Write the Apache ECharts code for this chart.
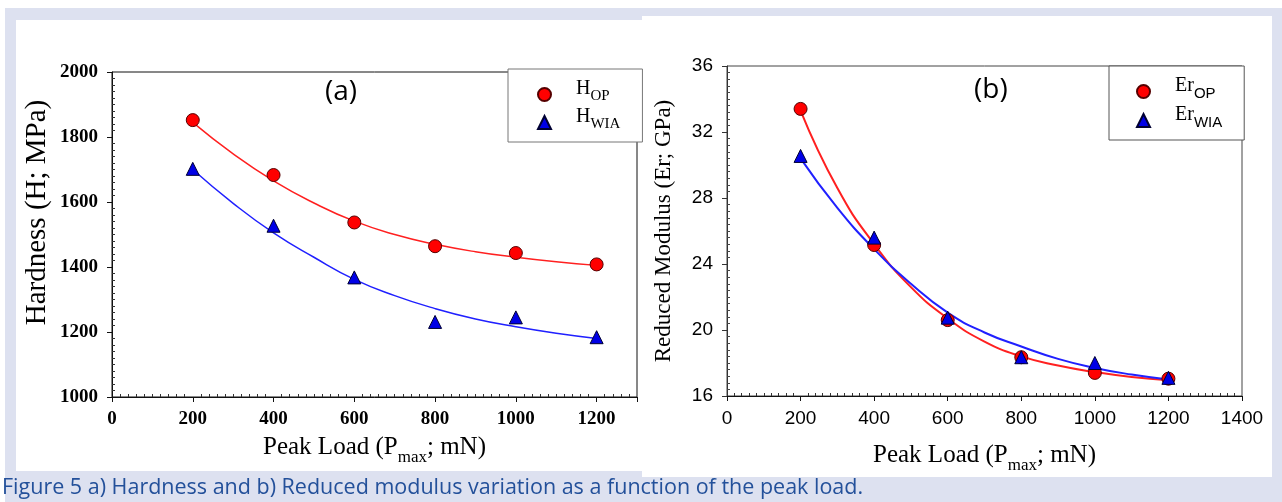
<!DOCTYPE html>
<html>
<head>
<meta charset="utf-8">
<script src="https://cdn.jsdelivr.net/npm/echarts@6/dist/echarts.min.js"></script>
<style>
  html, body { margin: 0; padding: 0; background: #fff; }
  #chart { width: 1282px; height: 502px; }
</style>
</head>
<body>
<div id="chart"></div>
<script>
// measured points
const loads = [200, 400, 600, 800, 1000, 1200]
const hOP = [1852, 1683, 1537, 1464, 1443, 1408]
const hWIA = [1702, 1527, 1368, 1231, 1245, 1184]
const erOP = [33.4, 25.15, 20.6, 18.35, 17.4, 17.05]
const erWIA = [30.55, 25.6, 20.75, 18.35, 18.0, 17.1]

// fitted curves, every 100 mN
const fitLoads = [200, 300, 400, 500, 600, 700, 800, 900, 1000, 1100, 1200]
const hOPFit = [1845, 1748, 1665, 1597, 1541, 1500, 1470, 1447, 1430, 1416, 1405]
const hWIAFit = [1700, 1596, 1505, 1430, 1362, 1312, 1272, 1240, 1216, 1196, 1180]
const erOPFit = [33.3, 28.6, 25.2, 22.6, 20.7, 19.3, 18.4, 17.85, 17.45, 17.15, 16.95]
const erWIAFit = [30.4, 27.4, 24.9, 22.8, 21.05, 19.85, 19.0, 18.25, 17.7, 17.3, 17.0]

const legendA = ['H_OP', 'H_WIA']
const legendB = ['Er_OP', 'Er_WIA']
const caption = 'Figure 5 a) Hardness and b) Reduced modulus variation as a function of the peak load.'

const pairs = (xs, ys) => xs.map((x, i) => [x, ys[i]])
const plain = (v) => String(v)

const RED = '#ff0000'
const BLUE = '#0000e6'
const SERIF = '"Liberation Serif", "Times New Roman", serif'
const SANS = '"Liberation Sans", Arial, sans-serif'

const subName = {
  t: { fontFamily: SERIF, fontSize: 25, lineHeight: 26, padding: [0, 0, 6, 0], verticalAlign: 'bottom', color: '#000' },
  s: { fontFamily: SERIF, fontSize: 17, lineHeight: 19, verticalAlign: 'bottom', color: '#000' }
}

const legendRich = (subFont, subSize) => ({
  m: { fontFamily: SERIF, fontSize: 20, lineHeight: 19, padding: [0, 0, 5, 20], verticalAlign: 'bottom', color: '#000' },
  s: { fontFamily: subFont, fontSize: subSize, lineHeight: 15, verticalAlign: 'bottom', color: '#000' }
})

const legendFormatter = (name) => {
  const [m, s] = name.split('_')
  return '{m|' + m + '}{s|' + s + '}'
}

const xAxisBase = (font, bold, showMax) => ({
  type: 'value',
  interval: 200,
  min: 0,
  axisLine: { show: true, lineStyle: { color: '#111', width: 1 } },
  axisTick: { show: true, inside: false, length: 5, lineStyle: { color: '#111' } },
  minorTick: { show: true, splitNumber: 10, length: -3, lineStyle: { color: '#333' } },
  splitLine: { show: false },
  axisLabel: {
    fontFamily: font, fontWeight: bold ? 'bold' : 'normal', fontSize: 19, color: '#000',
    margin: 13, showMaxLabel: showMax, formatter: plain
  },
  nameLocation: 'middle',
  nameTextStyle: { rich: subName }
})

const chart = echarts.init(document.getElementById('chart'))

const option = {
  animation: false,
  graphic: [
    { type: 'rect', z: -100, silent: true, shape: { x: 5, y: 8, width: 1277, height: 494 }, style: { fill: '#dde1f0' } },
    { type: 'rect', z: -99, silent: true, shape: { x: 16, y: 20, width: 626, height: 451 }, style: { fill: '#fff' } },
    { type: 'rect', z: -98, silent: true, shape: { x: 642, y: 16, width: 630, height: 461 }, style: { fill: '#fff' } },
    { type: 'text', left: 325, top: 78, style: { text: '(a)', font: '28px "Open Sans", sans-serif', fill: '#000' } },
    { type: 'text', left: 974, top: 76, style: { text: '(b)', font: '28px "Open Sans", sans-serif', fill: '#000' } },
    { type: 'text', left: 2, top: 477, style: { text: caption, font: '21.5px "Open Sans", sans-serif', fill: '#23509a' } }
  ],
  grid: [
    { left: 112, top: 72, width: 525, height: 325, show: true, borderColor: '#111', borderWidth: 1, backgroundColor: 'transparent' },
    { left: 727, top: 66, width: 515, height: 330, show: true, borderColor: '#444', borderWidth: 1, backgroundColor: 'transparent' }
  ],
  xAxis: [
    Object.assign(xAxisBase(SERIF, true, false), {
      gridIndex: 0, max: 1300, nameGap: 43,
      name: '{t|Peak Load (P}{s|max}{t|; mN)}'
    }),
    Object.assign(xAxisBase(SANS, false, true), {
      gridIndex: 1, max: 1400, nameGap: 52,
      name: '{t|Peak Load (P}{s|max}{t|; mN)}'
    })
  ],
  yAxis: [
    {
      type: 'value', gridIndex: 0, min: 1000, max: 2000, interval: 200,
      axisLine: { show: true, lineStyle: { color: '#111' } },
      axisTick: { show: true, length: 5, lineStyle: { color: '#111' } },
      minorTick: { show: true, splitNumber: 10, length: -3, lineStyle: { color: '#333' } },
      splitLine: { show: false },
      axisLabel: { fontFamily: SERIF, fontWeight: 'bold', fontSize: 19, color: '#000', margin: 14, formatter: plain },
      name: 'Hardness (H; MPa)', nameLocation: 'middle', nameGap: 60,
      nameTextStyle: { fontFamily: SERIF, fontSize: 29, color: '#000', padding: [0, 0, 0, 44] }
    },
    {
      type: 'value', gridIndex: 1, min: 16, max: 36, interval: 4,
      axisLine: { show: true, lineStyle: { color: '#333' } },
      axisTick: { show: true, length: 5, lineStyle: { color: '#333' } },
      minorTick: { show: true, splitNumber: 10, length: -3, lineStyle: { color: '#444' } },
      splitLine: { show: false },
      axisLabel: { fontFamily: SANS, fontSize: 19, color: '#000', margin: 14, formatter: plain },
      name: 'Reduced Modulus (Er; GPa)', nameLocation: 'middle', nameGap: 52,
      nameTextStyle: { fontFamily: SERIF, fontSize: 23, color: '#000' }
    }
  ],
  legend: [
    {
      data: legendA, orient: 'vertical', left: 508, top: 69,
      padding: [10, 22, 10, 29], itemGap: 3, itemWidth: 13, itemHeight: 13,
      borderColor: '#777', borderWidth: 1, backgroundColor: '#fff',
      formatter: legendFormatter, textStyle: { rich: legendRich(SERIF, 15) }
    },
    {
      data: legendB, orient: 'vertical', left: 1109, top: 66,
      padding: [10, 22, 10, 27], itemGap: 4, itemWidth: 13, itemHeight: 13,
      borderColor: '#555', borderWidth: 1, backgroundColor: '#fff',
      formatter: legendFormatter, textStyle: { rich: legendRich(SANS, 15) }
    }
  ],
  series: [
    { type: 'line', name: 'fitA1', xAxisIndex: 0, yAxisIndex: 0, data: pairs(fitLoads, hOPFit), smooth: true, showSymbol: false, lineStyle: { color: '#ff2020', width: 1.5 }, z: 2 },
    { type: 'line', name: 'fitA2', xAxisIndex: 0, yAxisIndex: 0, data: pairs(fitLoads, hWIAFit), smooth: true, showSymbol: false, lineStyle: { color: '#2020ff', width: 1.5 }, z: 2 },
    { type: 'line', name: 'fitB1', xAxisIndex: 1, yAxisIndex: 1, data: pairs(fitLoads, erOPFit), smooth: true, showSymbol: false, lineStyle: { color: '#ff2020', width: 2 }, z: 2 },
    { type: 'line', name: 'fitB2', xAxisIndex: 1, yAxisIndex: 1, data: pairs(fitLoads, erWIAFit), smooth: true, showSymbol: false, lineStyle: { color: '#2020ff', width: 2 }, z: 2 },
    { type: 'scatter', name: 'H_OP', xAxisIndex: 0, yAxisIndex: 0, data: pairs(loads, hOP), symbol: 'circle', symbolSize: 13, itemStyle: { color: RED, borderColor: '#500', borderWidth: 1, opacity: 1 }, z: 5 },
    { type: 'scatter', name: 'H_WIA', xAxisIndex: 0, yAxisIndex: 0, data: pairs(loads, hWIA), symbol: 'triangle', symbolSize: 13, itemStyle: { color: BLUE, borderColor: '#003', borderWidth: 1, opacity: 1 }, z: 5 },
    { type: 'scatter', name: 'Er_OP', xAxisIndex: 1, yAxisIndex: 1, data: pairs(loads, erOP), symbol: 'circle', symbolSize: 13, itemStyle: { color: RED, borderColor: '#500', borderWidth: 1, opacity: 1 }, z: 5 },
    { type: 'scatter', name: 'Er_WIA', xAxisIndex: 1, yAxisIndex: 1, data: pairs(loads, erWIA), symbol: 'triangle', symbolSize: 13, itemStyle: { color: BLUE, borderColor: '#003', borderWidth: 1, opacity: 1 }, z: 5 }
  ]
}

chart.setOption(option)
</script>
</body>
</html>
